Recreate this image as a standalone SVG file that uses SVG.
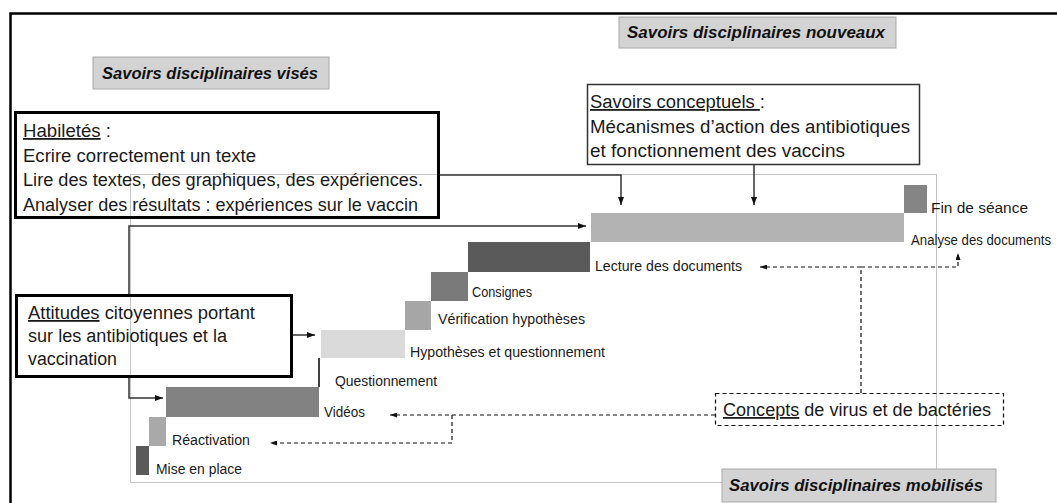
<svg xmlns="http://www.w3.org/2000/svg" width="1057" height="503" viewBox="0 0 1057 503">
<style>
.t{font-family:"Liberation Sans",Arial,sans-serif;font-size:18px;fill:#1a1a1a}
.s{font-family:"Liberation Sans",Arial,sans-serif;font-size:14px;fill:#1a1a1a}
.h{font-family:"Liberation Sans",Arial,sans-serif;font-size:16px;font-weight:bold;font-style:italic;fill:#111}
.hb{fill:#d3d3d3;stroke:#a8a8a8;stroke-width:1}
.thick{fill:none;stroke:#000;stroke-width:3}
.u{text-decoration:underline}
.con{fill:none;stroke:#333;stroke-width:1.5}
.dash{fill:none;stroke:#111;stroke-width:1.2;stroke-dasharray:4 3}
</style>
<defs>
<marker id="arr" viewBox="0 0 8 6" refX="8" refY="3" markerWidth="8" markerHeight="6" markerUnits="userSpaceOnUse" orient="auto">
<path d="M0,0 L8,3 L0,6 z" fill="#111"/>
</marker>
<marker id="arrs" viewBox="0 0 7 5" refX="7" refY="2.5" markerWidth="7" markerHeight="5" markerUnits="userSpaceOnUse" orient="auto">
<path d="M0,0 L7,2.5 L0,5 z" fill="#111"/>
</marker>
</defs>
<rect x="0" y="0" width="1057" height="503" fill="#fff"/>
<rect id="frame" x="10.5" y="13.5" width="1060" height="500" fill="none" stroke="#000" stroke-width="2.5"/>
<rect id="chart-area" x="130.5" y="174.5" width="806" height="308" fill="none" stroke="#c4c4c4" stroke-width="1"/>

<g id="steps">
<g id="step-mise-en-place"><rect x="136" y="446" width="13" height="29" fill="#5a5a5a"/><text class="s" x="156" y="474" textLength="86" lengthAdjust="spacingAndGlyphs">Mise en place</text></g>
<g id="step-reactivation"><rect x="149" y="417" width="17" height="29" fill="#a9a9a9"/><text class="s" x="172" y="445" textLength="78" lengthAdjust="spacingAndGlyphs">Réactivation</text></g>
<g id="step-videos"><rect x="166" y="387" width="153" height="30" fill="#828282"/><text class="s" x="324" y="417" textLength="41" lengthAdjust="spacingAndGlyphs">Vidéos</text></g>
<g id="step-questionnement"><rect x="318" y="358" width="2" height="29" fill="#404040"/><text class="s" x="335" y="386" textLength="102" lengthAdjust="spacingAndGlyphs">Questionnement</text></g>
<g id="step-hypotheses"><rect x="321" y="330" width="84" height="28" fill="#dadada"/><text class="s" x="410" y="357" textLength="195" lengthAdjust="spacingAndGlyphs">Hypothèses et questionnement</text></g>
<g id="step-verification"><rect x="405" y="301" width="26" height="29" fill="#a6a6a6"/><text class="s" x="438" y="324" textLength="147" lengthAdjust="spacingAndGlyphs">Vérification hypothèses</text></g>
<g id="step-consignes"><rect x="431" y="272" width="37" height="29" fill="#7a7a7a"/><text class="s" x="472" y="297" textLength="60" lengthAdjust="spacingAndGlyphs">Consignes</text></g>
<g id="step-lecture"><rect x="468" y="242" width="122" height="30" fill="#5a5a5a"/><text class="s" x="595" y="271" textLength="147" lengthAdjust="spacingAndGlyphs">Lecture des documents</text></g>
<g id="step-analyse"><rect x="591" y="213" width="313" height="29" fill="#b3b3b3"/><text class="s" x="911" y="245" textLength="140" lengthAdjust="spacingAndGlyphs">Analyse des documents</text></g>
<g id="step-fin"><rect x="904" y="185" width="23" height="28" fill="#858585"/><text class="s" x="931" y="213" textLength="97" lengthAdjust="spacingAndGlyphs">Fin de séance</text></g>
</g>

<g id="connectors">
<polyline class="con" points="439,175 621,175 621,205" marker-end="url(#arr)" stroke="#555"/>
<line class="con" x1="754" y1="165" x2="754" y2="205" marker-end="url(#arr)"/>
<polyline class="con" points="129,295 129,226 586,226" marker-end="url(#arr)"/>
<polyline class="con" points="129,377 129,398 163,398" marker-end="url(#arr)"/>
<line class="con" x1="292" y1="335" x2="315" y2="335" marker-end="url(#arr)"/>
<line class="dash" x1="715" y1="415" x2="390" y2="415" marker-end="url(#arrs)"/>
<polyline class="dash" points="452,415 452,443 270,443" marker-end="url(#arrs)"/>
<polyline class="dash" points="861,393 861,267 760,267" marker-end="url(#arrs)"/>
<polyline class="dash" points="861,267 958,267 958,253" marker-end="url(#arrs)"/>
</g>

<g id="label-vises"><rect class="hb" x="93" y="57" width="236" height="32"/><text class="h" x="102" y="79" textLength="216" lengthAdjust="spacingAndGlyphs">Savoirs disciplinaires visés</text></g>
<g id="label-nouveaux"><rect class="hb" x="619" y="17" width="277" height="31"/><text class="h" x="627" y="38" textLength="258" lengthAdjust="spacingAndGlyphs">Savoirs disciplinaires nouveaux</text></g>
<g id="label-mobilises"><rect class="hb" x="722" y="469" width="274" height="33"/><text class="h" x="729" y="491" textLength="254" lengthAdjust="spacingAndGlyphs">Savoirs disciplinaires mobilisés</text></g>

<g id="habiletes">
<rect class="thick" x="15.5" y="112.5" width="423" height="105"/>
<text class="t" x="23" y="137" textLength="88" lengthAdjust="spacingAndGlyphs"><tspan class="u">Habiletés</tspan> :</text>
<text class="t" x="23" y="162" textLength="233" lengthAdjust="spacingAndGlyphs">Ecrire correctement un texte</text>
<text class="t" x="23" y="186" textLength="400" lengthAdjust="spacingAndGlyphs">Lire des textes, des graphiques, des expériences.</text>
<text class="t" x="23" y="211" textLength="395" lengthAdjust="spacingAndGlyphs">Analyser des résultats : expériences sur le vaccin</text>
</g>

<g id="savoirs-conceptuels">
<rect x="587.5" y="84.5" width="332" height="80" fill="#fff" stroke="#333" stroke-width="1.5"/>
<text class="t" x="590" y="108" textLength="175" lengthAdjust="spacingAndGlyphs"><tspan class="u">Savoirs conceptuels </tspan>:</text>
<text class="t" x="590" y="133" textLength="320" lengthAdjust="spacingAndGlyphs">Mécanismes d’action des antibiotiques</text>
<text class="t" x="590" y="157" textLength="255" lengthAdjust="spacingAndGlyphs">et fonctionnement des vaccins</text>
</g>

<g id="attitudes">
<rect class="thick" x="16.5" y="295.5" width="275" height="81"/>
<text class="t" x="28" y="319" textLength="227" lengthAdjust="spacingAndGlyphs"><tspan class="u">Attitudes</tspan> citoyennes portant</text>
<text class="t" x="28" y="342" textLength="199" lengthAdjust="spacingAndGlyphs">sur les antibiotiques et la</text>
<text class="t" x="28" y="365" textLength="89" lengthAdjust="spacingAndGlyphs">vaccination</text>
</g>

<g id="concepts">
<rect x="715.5" y="393.5" width="288" height="32" fill="none" stroke="#111" stroke-width="1.2" stroke-dasharray="4 3"/>
<text class="t" x="723" y="416" textLength="268" lengthAdjust="spacingAndGlyphs"><tspan class="u">Concepts</tspan> de virus et de bactéries</text>
</g>
</svg>
